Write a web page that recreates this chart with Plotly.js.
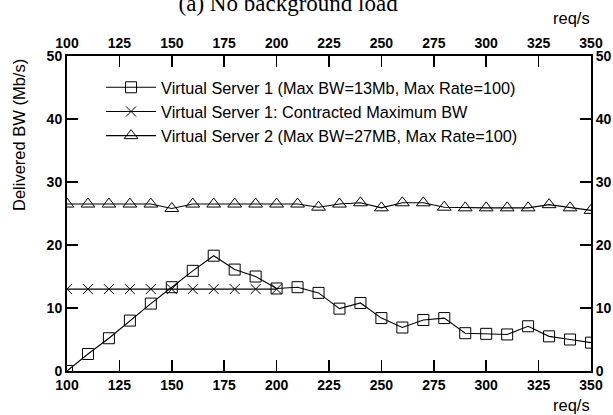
<!DOCTYPE html>
<html>
<head>
<meta charset="utf-8">
<script src="https://cdn.plot.ly/plotly-3.0.1.min.js"></script>
<style>html,body{margin:0;padding:0;background:#fff;}#chart{width:613px;height:415px;}</style>
</head>
<body>
<div id="chart"></div>
<script>
const reqRate = [100,110,120,130,140,150,160,170,180,190,200,210,220,230,240,250,260,270,280,290,300,310,320,330,340,350];
const vs1Delivered = [0,2.7,5.2,8.0,10.7,13.3,15.9,18.3,16.1,15.0,13.1,13.3,12.4,9.9,10.8,8.4,6.9,8.1,8.4,6.0,5.9,5.8,7.1,5.5,5.0,4.5];
const contractRate = [100,110,120,130,140,150,160,170,180,190,200];
const vs1Contract = [13,13,13,13,13,13,13,13,13,13,13];
const vs2Delivered = [26.5,26.5,26.5,26.5,26.5,25.8,26.5,26.5,26.5,26.5,26.5,26.5,26.0,26.5,26.7,25.9,26.7,26.7,26.0,25.9,25.9,25.9,25.9,26.4,25.9,25.5];
const xTicks = [100,125,150,175,200,225,250,275,300,325,350];
const yTicks = [0,10,20,30,40,50];
const names = [
  "Virtual Server 1 (Max BW=13Mb, Max Rate=100)",
  "Virtual Server 1: Contracted Maximum BW",
  "Virtual Server 2 (Max BW=27MB, Max Rate=100)"
];

const lineStyle = {color:'#000', width:1.1};
const traces = [
  {x:reqRate, y:vs1Delivered, name:names[0], mode:'lines+markers', line:lineStyle,
   marker:{symbol:'square-open', size:11, color:'#000', line:{width:1, color:'#000'}}},
  {x:contractRate, y:vs1Contract, name:names[1], mode:'lines+markers', line:lineStyle,
   marker:{symbol:'x-thin-open', size:10, color:'#000', line:{width:1, color:'#000'}}},
  {x:reqRate, y:vs2Delivered, name:names[2], mode:'lines+markers', line:lineStyle,
   marker:{symbol:'triangle-up-open', size:12, color:'#000', line:{width:1, color:'#000'}}},
  {x:reqRate, y:vs2Delivered, xaxis:'x2', yaxis:'y2', mode:'markers', showlegend:false,
   hoverinfo:'skip', opacity:0, marker:{size:1}}
];

const tickFont = {family:'Liberation Sans, Arial, sans-serif', size:14, color:'#000', weight:'bold'};
const axBase = {
  showgrid:false, zeroline:false, showline:true, linecolor:'#000', linewidth:2,
  ticks:'inside', ticklen:11, tickwidth:1.5, tickcolor:'#000', tickfont:tickFont
};

const layout = {
  width:613, height:415,
  margin:{l:67, r:22, t:56, b:44},
  paper_bgcolor:'#fff', plot_bgcolor:'#fff',
  showlegend:true,
  legend:{x:0.065, y:0.955, xanchor:'left', yanchor:'top', bgcolor:'rgba(0,0,0,0)',
    font:{family:'Liberation Sans, Arial, sans-serif', size:16.3, color:'#000'},
    itemwidth:50, tracegroupgap:0},
  title:{text:'(a) No background load', x:0.47, xanchor:'center', y:0.993, yanchor:'middle',
    yref:'container', font:{family:'Liberation Serif, Times New Roman, serif', size:23, color:'#000'}},
  xaxis:Object.assign({}, axBase, {range:[100,350], tickvals:xTicks, ticktext:xTicks.map(String), side:'bottom', anchor:'y'}),
  xaxis2:Object.assign({}, axBase, {range:[100,350], tickvals:xTicks, ticktext:xTicks.map(String), side:'top', overlaying:'x', anchor:'y'}),
  yaxis:Object.assign({}, axBase, {range:[0,50], tickvals:yTicks, ticktext:yTicks.map(String), side:'left', anchor:'x'}),
  yaxis2:Object.assign({}, axBase, {range:[0,50], tickvals:yTicks, ticktext:yTicks.map(String), side:'right', overlaying:'y', anchor:'x'}),
  annotations:[
    {text:'Delivered BW (Mb/s)', xref:'paper', yref:'paper', x:-0.093, y:0.75, xanchor:'center', yanchor:'middle',
     textangle:-90, showarrow:false, font:{family:'Liberation Sans, Arial, sans-serif', size:16.5, color:'#000'}},
    {text:'req/s', xref:'paper', yref:'paper', x:0.963, y:-0.108, xanchor:'center', yanchor:'middle',
     showarrow:false, font:{family:'Liberation Sans, Arial, sans-serif', size:16.5, color:'#000'}},
    {text:'req/s', xref:'paper', yref:'paper', x:0.963, y:1.121, xanchor:'center', yanchor:'middle',
     showarrow:false, font:{family:'Liberation Sans, Arial, sans-serif', size:16.5, color:'#000'}}
  ]
};

Plotly.newPlot('chart', traces, layout, {displayModeBar:false, staticPlot:true});
</script>
</body>
</html>
